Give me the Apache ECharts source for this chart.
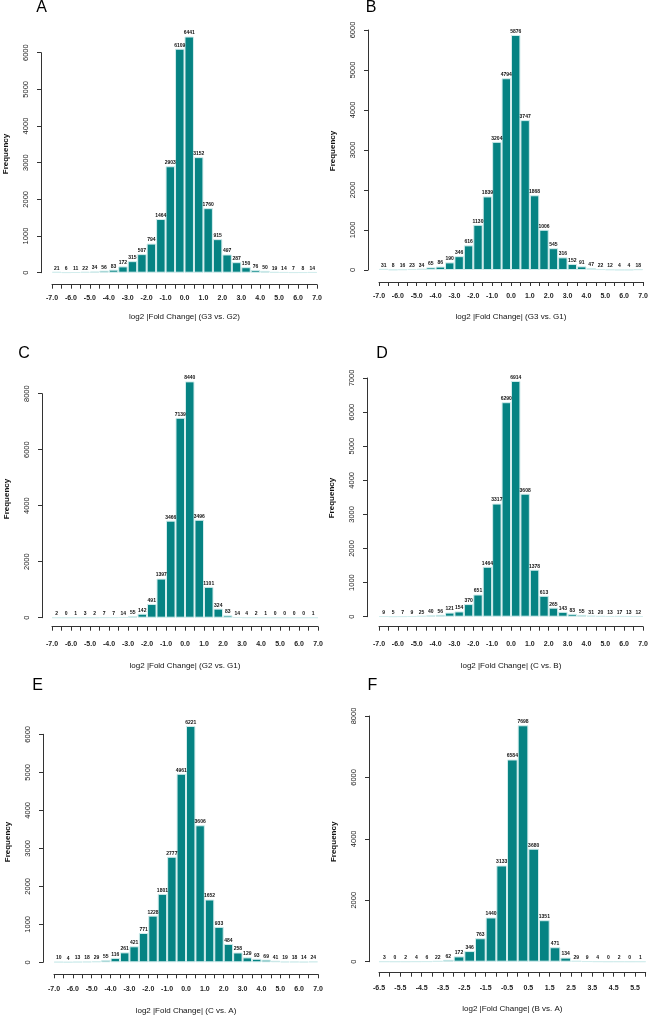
<!DOCTYPE html>
<html><head><meta charset="utf-8">
<script src="https://cdn.jsdelivr.net/npm/echarts/dist/echarts.min.js"></script>
<style>html,body{margin:0;padding:0;background:#fff}#c{width:650px;height:1015px}</style>
</head><body><div id="c"></div>
<script>
// ---- data ----
const panelLetters = ['A', 'B', 'C', 'D', 'E', 'F'];
const xTitles = [
  'log2 |Fold Change| (G3 vs. G2)',
  'log2 |Fold Change| (G3 vs. G1)',
  'log2 |Fold Change| (G2 vs. G1)',
  'log2 |Fold Change| (C vs. B)',
  'log2 |Fold Change| (C vs. A)',
  'log2 |Fold Change| (B vs. A)'
];
const countsA = [21, 6, 11, 22, 34, 56, 83, 172, 315, 507, 794, 1464, 2903, 6109, 6441, 3152, 1760, 915, 497, 287, 150, 76, 50, 19, 14, 7, 8, 14];
const countsB = [31, 8, 16, 23, 34, 65, 86, 190, 346, 616, 1130, 1839, 3204, 4794, 5876, 3747, 1868, 1006, 545, 316, 152, 91, 47, 22, 12, 4, 4, 18];
const countsC = [2, 0, 1, 3, 2, 7, 7, 14, 55, 142, 491, 1397, 3466, 7139, 8440, 3496, 1101, 324, 83, 14, 4, 2, 1, 0, 0, 0, 0, 1];
const countsD = [9, 5, 7, 9, 25, 40, 56, 121, 154, 370, 651, 1464, 3317, 6290, 6914, 3608, 1378, 613, 265, 143, 83, 55, 31, 20, 13, 17, 13, 12];
const countsE = [10, 4, 13, 18, 29, 55, 116, 261, 421, 771, 1228, 1801, 2777, 4961, 6221, 3606, 1652, 933, 484, 258, 129, 93, 69, 41, 19, 18, 14, 24];
const countsF = [3, 0, 2, 4, 6, 22, 62, 172, 346, 763, 1440, 3133, 6584, 7698, 3680, 1351, 471, 134, 29, 9, 4, 0, 2, 0, 1];
const yMaxes = [6000, 6000, 8000, 7000, 6000, 8000];
const yIntervals = [1000, 1000, 2000, 1000, 1000, 2000];
const xRanges = [[-7, 7], [-7, 7], [-7, 7], [-7, 7], [-7, 7], [-6.5, 6.0]];
const binWidth = 0.5;
const xTickLabelsAtoE = ['-7.0', '-6.0', '-5.0', '-4.0', '-3.0', '-2.0', '-1.0', '0.0', '1.0', '2.0', '3.0', '4.0', '5.0', '6.0', '7.0'];
const xTickLabelsF = ['-6.5', '-5.5', '-4.5', '-3.5', '-2.5', '-1.5', '-0.5', '0.5', '1.5', '2.5', '3.5', '4.5', '5.5'];

const allCounts = [countsA, countsB, countsC, countsD, countsE, countsF];
const allTickLabels = [xTickLabelsAtoE, xTickLabelsAtoE, xTickLabelsAtoE, xTickLabelsAtoE, xTickLabelsAtoE, xTickLabelsF];

// ---- layout (pixels) ----
const layout = [
  { left: 52,  width: 265,   top: 52.7,  height: 220,   yOff: 11, xOff: 12, lblMargin: 10, xNameGap: 28, yNameShift: 8.7,  letter: [41.7, 7.5] },
  { left: 379, width: 264,   top: 30,    height: 240,   yOff: 11, xOff: 12, lblMargin: 11, xNameGap: 31, yNameShift: -1,   letter: [371, 7.5] },
  { left: 52,  width: 266,   top: 393.7, height: 224,   yOff: 10, xOff: 9,  lblMargin: 14, xNameGap: 35, yNameShift: 6.7,  letter: [24, 354] },
  { left: 379, width: 264,   top: 378,   height: 238.7, yOff: 12, xOff: 10, lblMargin: 14, xNameGap: 35, yNameShift: -0.7, letter: [382, 354] },
  { left: 54,  width: 264,   top: 734.3, height: 228,   yOff: 11, xOff: 12, lblMargin: 11, xNameGap: 32, yNameShift: 6.3,  letter: [37.5, 686] },
  { left: 379, width: 266.7, top: 716,   height: 245.7, yOff: 10, xOff: 11, lblMargin: 12, xNameGap: 32, yNameShift: -3,   letter: [372.5, 686] }
];

const FONT = 'Liberation Sans, Arial, sans-serif';
const axisColor = '#333';
const grids = [], xAxes = [], yAxes = [], series = [], graphics = [];

layout.forEach((L, i) => {
  const counts = allCounts[i];
  const labels = allTickLabels[i];
  const [xmin, xmax] = xRanges[i];
  grids.push({ left: L.left, top: L.top, width: L.width, height: L.height, containLabel: false, outerBoundsMode: 'none' });
  // hidden category axis holding the histogram bins
  xAxes.push({
    type: 'category', gridIndex: i, position: 'bottom', show: false, boundaryGap: true,
    data: counts.map((_, k) => (xmin + k * binWidth).toFixed(1))
  });
  // visible R-style value axis with bin-edge ticks
  xAxes.push({
    type: 'value', gridIndex: i, position: 'bottom', offset: L.xOff,
    min: xmin, max: xmax, interval: binWidth,
    axisLine: { show: true, onZero: false, lineStyle: { color: axisColor, width: 1 } },
    axisTick: { show: true, length: 4, lineStyle: { color: axisColor, width: 1 } },
    axisLabel: {
      margin: L.lblMargin, fontSize: 7, fontWeight: 'bold', color: '#222', fontFamily: FONT,
      showMinLabel: true, showMaxLabel: true,
      formatter: v => { const s = Number(v).toFixed(1); return labels.includes(s) ? s : ''; }
    },
    splitLine: { show: false },
    name: xTitles[i], nameLocation: 'middle', nameGap: L.xNameGap,
    nameTextStyle: { fontSize: 8, color: '#111', fontFamily: FONT }
  });
  const pad = L.yNameShift >= 0 ? [0, 0, 0, 2 * L.yNameShift] : [0, -2 * L.yNameShift, 0, 0];
  yAxes.push({
    type: 'value', gridIndex: i, position: 'left', offset: L.yOff,
    min: 0, max: yMaxes[i], interval: yIntervals[i],
    axisLine: { show: true, onZero: false, lineStyle: { color: axisColor, width: 1 } },
    axisTick: { show: true, length: 4, lineStyle: { color: axisColor, width: 1 } },
    axisLabel: { rotate: 90, margin: 11, fontSize: 7.5, color: '#222', fontFamily: FONT, formatter: v => String(v) },
    splitLine: { show: false },
    name: 'Frequency', nameLocation: 'middle', nameGap: 31,
    nameTextStyle: { fontSize: 8, fontWeight: 'bold', color: '#111', fontFamily: FONT, padding: pad }
  });
  series.push({
    type: 'bar', xAxisIndex: 2 * i, yAxisIndex: i, data: counts,
    barCategoryGap: '0%', clip: false, animation: false,
    itemStyle: { color: '#068383', borderColor: '#d3eded', borderWidth: 1 },
    label: { show: true, position: 'top', distance: 1, fontSize: 5, fontWeight: 'bold', color: '#111', fontFamily: FONT }
  });
  graphics.push({
    type: 'text', x: L.letter[0], y: L.letter[1],
    style: { text: panelLetters[i], fontSize: 16, fontFamily: FONT, fill: '#000', align: 'center', verticalAlign: 'middle' }
  });
});

const chart = echarts.init(document.getElementById('c'), null, { renderer: 'canvas' });
chart.setOption({
  backgroundColor: '#fff',
  animation: false,
  grid: grids, xAxis: xAxes, yAxis: yAxes, series: series, graphic: graphics
});
</script></body></html>
